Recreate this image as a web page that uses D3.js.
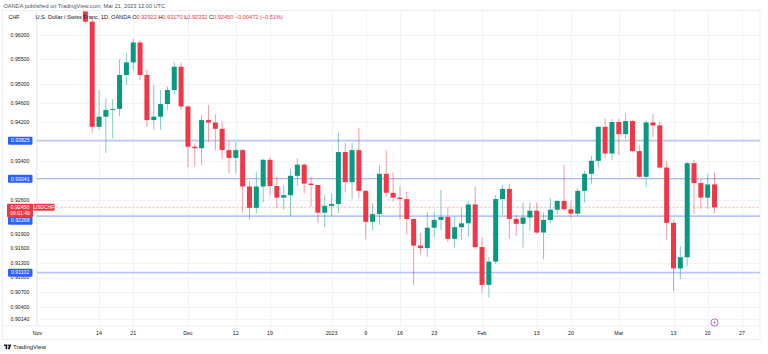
<!DOCTYPE html>
<html>
<head>
<meta charset="utf-8">
<script src="https://cdn.jsdelivr.net/npm/d3@7"></script>
<style>
  body { margin: 0; background: #ffffff; }
  svg { display: block; font-family: "Liberation Sans", Arial, sans-serif; }
</style>
</head>
<body>
<div id="chart"></div>
<script>
// Daily USD/CHF candles (OANDA), Nov 10 2022 - Mar 21 2023
const dates = ['Nov 10', 'Nov 11', 'Nov 14', 'Nov 15', 'Nov 16', 'Nov 17', 'Nov 18', 'Nov 21', 'Nov 22', 'Nov 23',
  'Nov 24', 'Nov 25', 'Nov 28', 'Nov 29', 'Nov 30', 'Dec 1', 'Dec 2', 'Dec 5', 'Dec 6', 'Dec 7',
  'Dec 8', 'Dec 9', 'Dec 12', 'Dec 13', 'Dec 14', 'Dec 15', 'Dec 16', 'Dec 19', 'Dec 20', 'Dec 21',
  'Dec 22', 'Dec 23', 'Dec 27', 'Dec 28', 'Dec 29', 'Dec 30', 'Jan 2', 'Jan 3', 'Jan 4', 'Jan 5',
  'Jan 6', 'Jan 9', 'Jan 10', 'Jan 11', 'Jan 12', 'Jan 13', 'Jan 16', 'Jan 17', 'Jan 18', 'Jan 19',
  'Jan 20', 'Jan 23', 'Jan 24', 'Jan 25', 'Jan 26', 'Jan 27', 'Jan 30', 'Jan 31', 'Feb 1', 'Feb 2',
  'Feb 3', 'Feb 6', 'Feb 7', 'Feb 8', 'Feb 9', 'Feb 10', 'Feb 13', 'Feb 14', 'Feb 15', 'Feb 16',
  'Feb 17', 'Feb 20', 'Feb 21', 'Feb 22', 'Feb 23', 'Feb 24', 'Feb 27', 'Feb 28', 'Mar 1', 'Mar 2',
  'Mar 3', 'Mar 6', 'Mar 7', 'Mar 8', 'Mar 9', 'Mar 10', 'Mar 13', 'Mar 14', 'Mar 15', 'Mar 16',
  'Mar 17', 'Mar 20', 'Mar 21'];
const opens = [0.9880, 0.9628, 0.9411, 0.9432, 0.9446, 0.9448, 0.9518, 0.9544, 0.9585, 0.9518,
  0.9425, 0.9432, 0.9458, 0.9487, 0.9535, 0.9453, 0.9370, 0.9367, 0.9425, 0.9420,
  0.9407, 0.9363, 0.9347, 0.9363, 0.9288, 0.9244, 0.9288, 0.9343, 0.9289, 0.9265,
  0.9270, 0.9310, 0.9333, 0.9294, 0.9291, 0.9234, 0.9248, 0.9252, 0.9359, 0.9297,
  0.9363, 0.9279, 0.9215, 0.9231, 0.9314, 0.9275, 0.9265, 0.9262, 0.9221, 0.9166,
  0.9161, 0.9203, 0.9219, 0.9225, 0.9180, 0.9204, 0.9212, 0.9251, 0.9163, 0.9085,
  0.9133, 0.9262, 0.9283, 0.9221, 0.9211, 0.9224, 0.9238, 0.9193, 0.9219, 0.9240,
  0.9258, 0.9241, 0.9232, 0.9279, 0.9314, 0.9341, 0.9411, 0.9356, 0.9421, 0.9396,
  0.9423, 0.9361, 0.9308, 0.9420, 0.9414, 0.9327, 0.9213, 0.9119, 0.9142, 0.9336,
  0.9295, 0.9265, 0.92922];
const highs = [0.9895, 0.9640, 0.9487, 0.9470, 0.9468, 0.9550, 0.9563, 0.9592, 0.9590, 0.9530,
  0.9497, 0.9487, 0.9495, 0.9544, 0.9544, 0.9456, 0.9377, 0.9436, 0.9456, 0.9437,
  0.9422, 0.9382, 0.9380, 0.9366, 0.9299, 0.9319, 0.9345, 0.9348, 0.9308, 0.9290,
  0.9324, 0.9346, 0.9336, 0.9308, 0.9292, 0.9270, 0.9274, 0.9399, 0.9378, 0.9378,
  0.9408, 0.9281, 0.9253, 0.9332, 0.9363, 0.9317, 0.9289, 0.9277, 0.9222, 0.9192,
  0.9235, 0.9236, 0.9281, 0.9245, 0.9226, 0.9243, 0.9258, 0.9288, 0.9183, 0.9142,
  0.9271, 0.9291, 0.9293, 0.9229, 0.9255, 0.9255, 0.9255, 0.9234, 0.9264, 0.9260,
  0.9332, 0.9259, 0.9284, 0.9320, 0.9351, 0.9414, 0.9429, 0.9427, 0.9427, 0.9439,
  0.9425, 0.9374, 0.9424, 0.9438, 0.9421, 0.9341, 0.9219, 0.9165, 0.9339, 0.9343,
  0.9303, 0.9314, 0.93170];
const lows = [0.9622, 0.9398, 0.9405, 0.9357, 0.9387, 0.9433, 0.9497, 0.9528, 0.9508, 0.9411,
  0.9405, 0.9405, 0.9446, 0.9477, 0.9446, 0.9328, 0.9328, 0.9332, 0.9380, 0.9363,
  0.9345, 0.9315, 0.9315, 0.9234, 0.9219, 0.9233, 0.9255, 0.9270, 0.9243, 0.9240,
  0.9227, 0.9289, 0.9274, 0.9246, 0.9213, 0.9204, 0.9227, 0.9233, 0.9277, 0.9262,
  0.9264, 0.9179, 0.9198, 0.9209, 0.9267, 0.9257, 0.9220, 0.9190, 0.9085, 0.9148,
  0.9143, 0.9184, 0.9198, 0.9174, 0.9161, 0.9178, 0.9184, 0.9160, 0.9069, 0.9059,
  0.9128, 0.9229, 0.9180, 0.9186, 0.9162, 0.9197, 0.9190, 0.9138, 0.9212, 0.9231,
  0.9238, 0.9222, 0.9227, 0.9255, 0.9293, 0.9327, 0.9346, 0.9343, 0.9353, 0.9387,
  0.9359, 0.9306, 0.9286, 0.9390, 0.9325, 0.9178, 0.9072, 0.9097, 0.9124, 0.9231,
  0.9242, 0.9242, 0.92332];
const closes = [0.9628, 0.9411, 0.9432, 0.9446, 0.9448, 0.9518, 0.9544, 0.9585, 0.9518, 0.9425,
  0.9432, 0.9458, 0.9487, 0.9535, 0.9453, 0.9370, 0.9367, 0.9425, 0.9420, 0.9407,
  0.9363, 0.9347, 0.9363, 0.9288, 0.9244, 0.9288, 0.9343, 0.9289, 0.9265, 0.9270,
  0.9310, 0.9333, 0.9294, 0.9291, 0.9234, 0.9248, 0.9252, 0.9359, 0.9297, 0.9363,
  0.9279, 0.9215, 0.9231, 0.9314, 0.9275, 0.9265, 0.9262, 0.9221, 0.9166, 0.9161,
  0.9203, 0.9219, 0.9225, 0.9180, 0.9204, 0.9212, 0.9251, 0.9163, 0.9085, 0.9133,
  0.9262, 0.9283, 0.9221, 0.9211, 0.9224, 0.9238, 0.9193, 0.9219, 0.9240, 0.9258,
  0.9241, 0.9232, 0.9279, 0.9314, 0.9341, 0.9411, 0.9356, 0.9421, 0.9396, 0.9423,
  0.9361, 0.9308, 0.9420, 0.9414, 0.9327, 0.9213, 0.9119, 0.9142, 0.9336, 0.9295,
  0.9265, 0.92922, 0.92450];

// Price scale ticks (left axis)
const priceTicks = [0.96, 0.955, 0.95, 0.946, 0.942, 0.934, 0.926, 0.919, 0.916, 0.913, 0.91, 0.907, 0.904, 0.9014];
const priceTickLabels = ['0.96000', '0.95500', '0.95000', '0.94600', '0.94200', '0.93400', '0.92600',
  '0.91900', '0.91600', '0.91300', '0.91000', '0.90700', '0.90400', '0.90140'];
// Horizontal levels drawn on the chart
const levels = [0.93825, 0.93041, 0.92268, 0.91102];
const levelLabels = ['0.93825', '0.93041', '0.92268', '0.91102'];
const lastPrice = 0.92450;

// Time axis ticks, as bar offsets from Nov 11 (Dec 26 has no bar)
const timeTickBars = [-8, 1, 6, 14, 21, 26, 35, 40, 45, 50, 57, 65, 70, 77, 85, 90, 95];
const timeTickLabels = ['Nov', '14', '21', 'Dec', '12', '19', '2023', '9', '16', '23', 'Feb', '13', '20', 'Mar', '13', '20', '27'];

const width = 768;
const height = 354;
const pane = {left: 36.5, right: 760, top: 11.5, bottom: 326};

const up = '#089981';
const down = '#f23645';

const candles = dates.map((d, i) => ({
  date: d, bar: i - 1, o: opens[i], h: highs[i], l: lows[i], c: closes[i]
}));

// Scales
const x = d3.scaleLinear().domain([0, 90]).range([92.2, 707.7]);
const y = d3.scaleLinear().domain([0.9, 0.965]).range([326.1, 11.0]);
const bodyW = 5;

const svg = d3.select('#chart').append('svg')
  .attr('width', width)
  .attr('height', height);

svg.append('rect').attr('width', width).attr('height', height).attr('fill', '#ffffff');

svg.append('clipPath').attr('id', 'pane-clip')
  .append('rect')
    .attr('x', pane.left).attr('y', pane.top)
    .attr('width', pane.right - pane.left).attr('height', pane.bottom - pane.top);

// Grid
const grid = svg.append('g').attr('clip-path', 'url(#pane-clip)');
grid.selectAll('line.vg')
  .data(timeTickBars)
  .join('line')
    .attr('class', 'vg')
    .attr('x1', (d) => Math.round(x(d)) + 0.5)
    .attr('x2', (d) => Math.round(x(d)) + 0.5)
    .attr('y1', pane.top).attr('y2', pane.bottom)
    .attr('stroke', '#f0f3fa')
grid.selectAll('line.hg')
  .data(priceTicks)
  .join('line')
    .attr('class', 'hg')
    .attr('x1', pane.left).attr('x2', pane.right)
    .attr('y1', (d) => Math.round(y(d)) + 0.5)
    .attr('y2', (d) => Math.round(y(d)) + 0.5)
    .attr('stroke', '#f0f3fa')

// Level lines
const levelG = svg.append('g').attr('clip-path', 'url(#pane-clip)');
levelG.selectAll('line')
  .data(levels)
  .join('line')
    .attr('x1', pane.left).attr('x2', pane.right)
    .attr('y1', (d) => y(d)).attr('y2', (d) => y(d))
    .attr('stroke', (d, i) => i === 1 ? '#8fa7f3' : '#b9c7f7')
    .attr('stroke-width', (d, i) => i === 1 ? 1.1 : 1.7)

// Last price dashed line
levelG.append('line')
  .attr('x1', pane.left).attr('x2', pane.right)
  .attr('y1', y(lastPrice)).attr('y2', y(lastPrice))
  .attr('stroke', '#f7a5ab')
  .attr('stroke-width', 0.8)
  .attr('stroke-dasharray', '2,2')

// Candles
const candleG = svg.append('g').attr('clip-path', 'url(#pane-clip)');
candleG.selectAll('line.wick')
  .data(candles)
  .join('line')
    .attr('class', 'wick')
    .attr('x1', (d) => x(d.bar)).attr('x2', (d) => x(d.bar))
    .attr('y1', (d) => y(d.h)).attr('y2', (d) => y(d.l))
    .attr('stroke', (d) => d.c >= d.o ? up : down)
    .attr('stroke-opacity', 0.5)
    .attr('stroke-width', 1)
candleG.selectAll('rect.body')
  .data(candles)
  .join('rect')
    .attr('class', 'body')
    .attr('x', (d) => x(d.bar) - bodyW / 2)
    .attr('y', (d) => y(Math.max(d.o, d.c)))
    .attr('width', bodyW)
    .attr('height', (d) => Math.max(1, Math.abs(y(d.o) - y(d.c))))
    .attr('fill', (d) => d.c >= d.o ? up : down)

// Price axis labels (left)
const axisG = svg.append('g').attr('font-size', 5.2).attr('fill', '#131722');
axisG.selectAll('text')
  .data(priceTicks)
  .join('text')
    .attr('x', 20).attr('y', (d) => y(d))
    .attr('dy', '0.35em')
    .attr('text-anchor', 'middle')
    .text((d, i) => priceTickLabels[i])

// Pane borders
svg.append('line')
  .attr('x1', pane.left).attr('x2', pane.left)
  .attr('y1', pane.top).attr('y2', pane.bottom)
  .attr('stroke', '#e0e3eb').attr('stroke-width', 0.6)
svg.append('line')
  .attr('x1', 2).attr('x2', pane.right)
  .attr('y1', pane.bottom).attr('y2', pane.bottom)
  .attr('stroke', '#e0e3eb').attr('stroke-width', 0.6)
svg.append('rect')
  .attr('x', 2.5).attr('y', 10.5)
  .attr('width', pane.right - 2.5).attr('height', 339.5 - 10.5)
  .attr('fill', 'none').attr('stroke', '#e0e3eb').attr('stroke-width', 0.6)

// Level labels (blue boxes)
const levelLabelY = [y(levels[0]), y(levels[1]), y(levels[2]) + 4.5, y(levels[3])];
const lvl = svg.append('g');
levels.forEach((lv, i) => {
  lvl.append('rect')
    .attr('x', 8).attr('y', levelLabelY[i] - 4)
    .attr('width', 24.5).attr('height', 8)
    .attr('rx', 1)
    .attr('fill', '#2962ff')
  lvl.append('text')
    .attr('x', 20.2).attr('y', levelLabelY[i])
    .attr('dy', '0.35em')
    .attr('text-anchor', 'middle')
    .attr('font-size', 5.2)
    .attr('fill', '#ffffff')
    .text(levelLabels[i])
})

// Last price label
const ly = y(lastPrice);
svg.append('rect')
  .attr('x', 7).attr('y', ly - 3.5)
  .attr('width', 26).attr('height', 13.5)
  .attr('rx', 1)
  .attr('fill', down)
svg.append('text')
  .attr('x', 20).attr('y', ly).attr('dy', '0.35em')
  .attr('text-anchor', 'middle').attr('font-size', 5.2).attr('fill', '#ffffff')
  .text('0.92450')
svg.append('text')
  .attr('x', 20).attr('y', ly + 6.3).attr('dy', '0.35em')
  .attr('text-anchor', 'middle').attr('font-size', 5).attr('fill', '#ffffff')
  .text('00:01:49')
svg.append('rect')
  .attr('x', 33.5).attr('y', ly - 3.5)
  .attr('width', 21).attr('height', 7)
  .attr('rx', 1)
  .attr('fill', down)
svg.append('text')
  .attr('x', 44).attr('y', ly).attr('dy', '0.35em')
  .attr('text-anchor', 'middle').attr('font-size', 5).attr('fill', '#ffffff')
  .text('USDCHF')

// Time axis labels
svg.append('g')
  .attr('font-size', 5.3)
  .attr('fill', '#131722')
  .selectAll('text')
  .data(timeTickBars)
  .join('text')
    .attr('x', (d) => x(d))
    .attr('y', 333.3)
    .attr('dy', '0.35em')
    .attr('text-anchor', 'middle')
    .text((d, i) => timeTickLabels[i])

// Event marker
const ev = svg.append('g').attr('transform', `translate(${x(91)}, 322.5)`);
ev.append('circle').attr('r', 3.6).attr('fill', '#ffffff').attr('stroke', '#b33bd6').attr('stroke-width', 0.8)
ev.append('path').attr('d', 'M0.6,-2.3 L-1.2,0.3 L0.1,0.3 L-0.6,2.3 L1.2,-0.4 L-0.1,-0.4 Z').attr('fill', '#b33bd6')

// Header
svg.append('text')
  .attr('x', 3.5).attr('y', 6).attr('dy', '0.35em')
  .attr('font-size', 5.6).attr('fill', '#50535e')
  .text('OANDA published on TradingView.com, Mar 21, 2023 12:00 UTC')

const legend = svg.append('text')
  .attr('x', 35.5).attr('y', 17.5).attr('dy', '0.35em')
  .attr('font-size', 5.6).attr('fill', '#131722')
legend.append('tspan').text('U.S. Dollar / Swiss Franc, 1D, OANDA  ')
const ohlc = [['O', '0.92922'], ['H', '0.93170'], ['L', '0.92332'], ['C', '0.92450']];
ohlc.forEach(([k, v]) => {
  legend.append('tspan').attr('fill', '#131722').text(k)
  legend.append('tspan').attr('fill', down).text(v + '  ')
})
legend.append('tspan').attr('fill', down).text('\u22120.00472 (\u22120.51%)')

svg.append('text')
  .attr('x', 8.5).attr('y', 17.5).attr('dy', '0.35em')
  .attr('font-size', 5.4).attr('fill', '#131722')
  .text('CHF')

// TradingView footer
const foot = svg.append('g').attr('transform', 'translate(4, 347)');
foot.append('path').attr('d', 'M0,-2.5 H3.2 V2.2 H1.6 V-1 H0 Z').attr('fill', '#131722')
foot.append('circle').attr('cx', 4.3).attr('cy', -1.7).attr('r', 0.8).attr('fill', '#131722')
foot.append('path').attr('d', 'M5.4,-2.5 H7.4 L5.6,2.2 H3.8 Z').attr('fill', '#131722')
foot.append('text')
  .attr('x', 9).attr('y', 0).attr('dy', '0.35em')
  .attr('font-size', 6).attr('fill', '#131722')
  .text('TradingView')
</script>
</body>
</html>
